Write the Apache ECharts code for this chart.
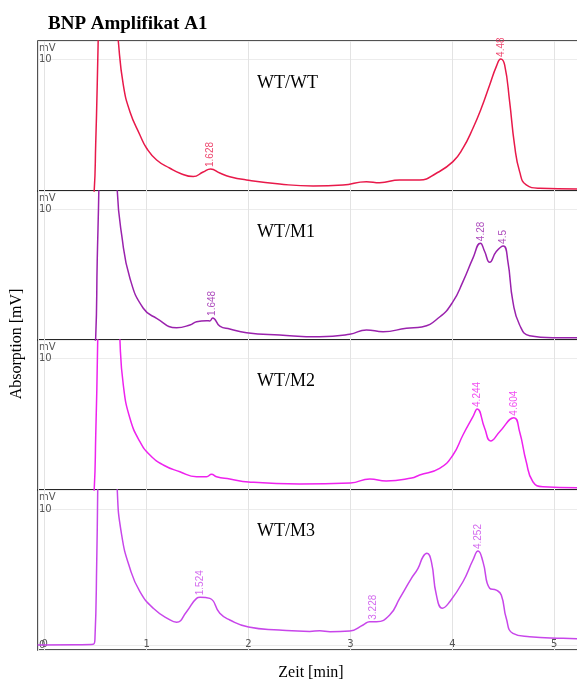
<!DOCTYPE html>
<html><head><meta charset="utf-8">
<script src="https://cdn.jsdelivr.net/npm/echarts@6/dist/echarts.min.js"></script>
<style>html,body{margin:0;padding:0;background:#fff}#c{width:577px;height:679px}</style>
</head><body><div id="c"></div>
<script>
// ---- data (time in min, signal in mV) ----
const p1Time = [-0.06, 0.3, 0.47, 0.486, 0.50, 0.515, 0.53, 0.56, 0.62, 0.68, 0.70, 0.722, 0.771, 0.836, 0.934, 1.0, 1.098, 1.229, 1.327, 1.457, 1.555, 1.628, 1.718, 1.816, 1.98, 2.306, 2.633, 2.927, 3.157, 3.287, 3.483, 3.679, 3.843, 4.006, 4.104, 4.202, 4.284, 4.366, 4.431, 4.475, 4.513, 4.562, 4.61, 4.66, 4.725, 4.856, 5.3];
const p1Value = [-0.3, -0.3, -0.3, 0.1, 3.5, 8, 14, 30, 42, 25, 14, 11.4, 8.06, 6.03, 4.26, 3.25, 2.36, 1.73, 1.35, 1.10, 1.44, 1.67, 1.37, 1.09, 0.84, 0.53, 0.38, 0.46, 0.71, 0.63, 0.84, 0.84, 1.35, 2.23, 3.25, 4.77, 6.29, 8.06, 9.45, 10.04, 9.58, 6.79, 3.5, 1.47, 0.46, 0.21, 0.15];

const p2Time = [-0.06, 0.3, 0.48, 0.50, 0.515, 0.532, 0.56, 0.62, 0.68, 0.712, 0.755, 0.836, 0.967, 1.098, 1.294, 1.425, 1.49, 1.588, 1.62, 1.648, 1.718, 1.816, 1.98, 2.306, 2.699, 2.993, 3.157, 3.32, 3.549, 3.70, 3.875, 4.006, 4.104, 4.202, 4.275, 4.317, 4.366, 4.431, 4.50, 4.545, 4.594, 4.66, 4.758, 4.986, 5.3];
const p2Value = [-0.3, -0.3, -0.2, 0.15, 6, 12, 30, 42, 22, 11.4, 8.05, 4.73, 2.43, 1.66, 0.94, 1.15, 1.40, 1.48, 1.46, 1.69, 1.07, 0.84, 0.56, 0.38, 0.25, 0.44, 0.77, 0.64, 0.90, 1.0, 1.76, 2.93, 4.47, 6.26, 7.41, 6.77, 5.95, 6.77, 7.20, 6.0, 2.93, 1.15, 0.33, 0.18, 0.18];

const p3Time = [-0.06, 0.3, 0.47, 0.486, 0.50, 0.52, 0.55, 0.62, 0.70, 0.738, 0.771, 0.836, 0.934, 1.032, 1.163, 1.326, 1.49, 1.588, 1.637, 1.686, 1.816, 2.0, 2.5, 3.0, 3.19, 3.35, 3.6, 3.679, 3.875, 4.006, 4.104, 4.202, 4.244, 4.317, 4.376, 4.464, 4.604, 4.66, 4.725, 4.79, 4.888, 5.3];
const p3Value = [-0.3, -0.3, -0.3, 0.13, 4, 11.4, 30, 42, 20, 11.4, 7.98, 5.45, 3.67, 2.66, 1.90, 1.39, 1.01, 1.01, 1.19, 1.01, 0.84, 0.61, 0.46, 0.53, 0.84, 0.68, 0.91, 1.14, 1.65, 2.66, 4.18, 5.57, 6.16, 4.69, 3.73, 4.43, 5.50, 4.43, 2.15, 0.63, 0.25, 0.17];

const p4Time = [-0.07, 0.3, 0.476, 0.493, 0.51, 0.52, 0.55, 0.62, 0.69, 0.712, 0.755, 0.836, 0.934, 1.065, 1.229, 1.294, 1.392, 1.49, 1.524, 1.62, 1.718, 1.816, 2.0, 2.3, 2.6, 2.7, 2.8, 2.993, 3.124, 3.189, 3.255, 3.385, 3.483, 3.598, 3.663, 3.712, 3.751, 3.794, 3.843, 3.902, 3.974, 4.104, 4.202, 4.252, 4.300, 4.366, 4.431, 4.48, 4.529, 4.594, 4.758, 5.085, 5.3];
const p4Value = [0.0, 0.02, 0.05, 0.5, 6, 11.4, 30, 42, 20, 11.4, 8.09, 5.64, 3.92, 2.70, 1.84, 1.67, 2.45, 3.43, 3.51, 3.43, 2.33, 1.84, 1.32, 1.1, 1.0, 1.05, 0.98, 1.03, 1.47, 1.71, 1.71, 2.2, 3.43, 4.9, 5.64, 6.49, 6.74, 6.13, 3.68, 2.7, 3.18, 4.65, 6.25, 6.91, 6.13, 4.17, 4.04, 3.68, 1.96, 0.86, 0.61, 0.49, 0.44];

// peak annotations
const p1PeakTime = [1.628, 4.48];
const p1PeakValue = [1.67, 10.04];
const p1PeakText = ['1.628', '4.48'];
const p2PeakTime = [1.648, 4.28, 4.5];
const p2PeakValue = [1.69, 7.41, 7.20];
const p2PeakText = ['1.648', '4.28', '4.5'];
const p3PeakTime = [4.244, 4.604];
const p3PeakValue = [6.16, 5.50];
const p3PeakText = ['4.244', '4.604'];
const p4PeakTime = [1.524, 3.228, 4.252];
const p4PeakValue = [3.51, 1.71, 6.91];
const p4PeakText = ['1.524', '3.228', '4.252'];

const sampleNames = ['WT/WT', 'WT/M1', 'WT/M2', 'WT/M3'];
const xTickLabels = ['0', '1', '2', '3', '4', '5'];

// ---- chart ----
const panels = [
  {t: p1Time, v: p1Value, pt: p1PeakTime, pv: p1PeakValue, pl: p1PeakText, color: '#e8194a'},
  {t: p2Time, v: p2Value, pt: p2PeakTime, pv: p2PeakValue, pl: p2PeakText, color: '#9a22ad'},
  {t: p3Time, v: p3Value, pt: p3PeakTime, pv: p3PeakValue, pl: p3PeakText, color: '#ee22ee'},
  {t: p4Time, v: p4Value, pt: p4PeakTime, pv: p4PeakValue, pl: p4PeakText, color: '#c846ea'}
];
const tops = [41, 191, 340, 490];
const heights = [150, 149, 150, 160];
const labelTops = [84, 233, 382, 532];

const grids = [], xAxes = [], yAxes = [], series = [], graphics = [];
panels.forEach((p, i) => {
  grids.push({left: 38, width: 550, top: tops[i], height: heights[i], show: true,
    outerBoundsMode: 'none', containLabel: false,
    borderColor: '#1a1a1a', borderWidth: 1.5, backgroundColor: 'transparent'});
  xAxes.push({type: 'value', gridIndex: i, min: -0.066, max: 5.331, splitNumber: 5,
    axisLine: {show: false}, axisTick: {show: false},
    splitLine: {show: true, lineStyle: {color: '#e3e3e3', width: 1}},
    axisLabel: {show: i === 3, inside: true, margin: 1, color: '#555', fontSize: 10,
      fontFamily: 'DejaVu Sans',
      formatter: v => { const r = Math.round(v); return (Math.abs(v - r) < 1e-6 && r >= 0 && r <= 5) ? xTickLabels[r] : ''; }}});
  const yA = {type: 'value', gridIndex: i,
    axisLine: {show: false}, axisTick: {show: false},
    splitLine: {show: true, lineStyle: {color: '#ececec', width: 1}},
    axisLabel: {show: true, inside: true, margin: 1, color: '#555', fontSize: 10, fontFamily: 'DejaVu Sans',
      formatter: v => (Math.abs(v - 10) < 1e-6 ? '10' : (i === 3 && Math.abs(v) < 1e-6 ? '0' : ''))}};
  if (i < 3) { yA.min = 0; yA.max = 11.4; yA.interval = 10; }
  else { yA.min = -0.37; yA.max = 11.4; yA.splitNumber = 1; }
  yAxes.push(yA);
  series.push({type: 'line', xAxisIndex: i, yAxisIndex: i, showSymbol: false, symbol: 'none',
    smooth: 0.5, clip: true,
    lineStyle: {color: p.color, width: 1.5}, data: p.t.map((t, k) => [t, p.v[k]]), z: 3, silent: true});
  series.push({type: 'scatter', xAxisIndex: i, yAxisIndex: i, symbolSize: 0, silent: true, z: 4,
    data: p.pt.map((t, k) => ({value: [t, p.pv[k]], name: p.pl[k]})),
    label: {show: true, position: 'inside', rotate: 90, align: 'left', verticalAlign: 'middle',
      padding: [0, 0, 0, 2], color: p.color, fontSize: 10,
      fontFamily: 'Liberation Sans Narrow, Arial Narrow, Liberation Sans, sans-serif',
      formatter: d => d.name}});
  graphics.push({type: 'text', left: 39, top: tops[i] + 2, silent: true,
    style: {text: 'mV', fill: '#555', font: '10px "DejaVu Sans"'}});
  graphics.push({type: 'text', left: 257, top: labelTops[i] - 10, silent: true,
    style: {text: sampleNames[i], fill: '#000', font: '18px "Liberation Serif"'}});
});

graphics.push({type: 'text', x: 17, y: 344, rotation: Math.PI / 2, silent: true,
  style: {text: 'Absorption [mV]', fill: '#000', font: '16px "Liberation Serif"', align: 'center', verticalAlign: 'middle'}});
graphics.push({type: 'text', x: 311, y: 673, silent: true,
  style: {text: 'Zeit [min]', fill: '#000', font: '16px "Liberation Serif"', align: 'center', verticalAlign: 'middle'}});

const chart = echarts.init(document.getElementById('c'), null, {renderer: 'canvas'});
chart.setOption({
  animation: false,
  backgroundColor: '#fff',
  title: {text: 'BNP Amplifikat A1', left: 43, top: 10,
    textStyle: {fontFamily: 'Liberation Serif', fontWeight: 'bold', fontSize: 19, color: '#000'}},
  grid: grids, xAxis: xAxes, yAxis: yAxes, series: series, graphic: graphics
});
</script></body></html>
